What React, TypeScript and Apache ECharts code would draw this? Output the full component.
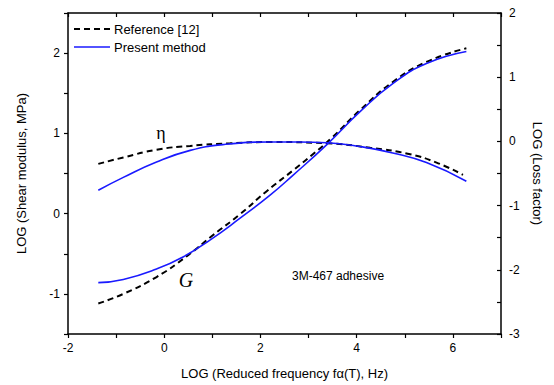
import React, { useEffect, useRef } from "react";
import * as echarts from "echarts";

// Reference [12] — shear modulus G (left axis)
const refGX = [-1.37, -0.85, -0.16, 0.47, 1.01, 1.57, 2.13, 2.68, 3.09, 3.51, 4.07, 4.75, 5.45, 6.28];
const refGY = [-1.12, -1.0, -0.79, -0.53, -0.27, -0.01, 0.28, 0.54, 0.74, 0.96, 1.29, 1.64, 1.89, 2.06];
// Present method — G
const preGX = [-1.37, -0.85, -0.16, 0.39, 0.95, 1.57, 2.2, 2.68, 3.38, 4.07, 4.75, 5.45, 6.28];
const preGY = [-0.86, -0.82, -0.69, -0.54, -0.33, -0.06, 0.23, 0.48, 0.86, 1.27, 1.62, 1.87, 2.02];
// Reference [12] — loss factor η (right axis)
const refEX = [-1.37, -0.85, -0.16, 0.54, 1.37, 2.2, 3.38, 4.28, 5.11, 5.66, 6.21];
const refEY = [-0.35, -0.25, -0.13, -0.07, -0.03, -0.01, -0.03, -0.1, -0.2, -0.33, -0.52];
// Present method — η
const preEX = [-1.37, -0.85, -0.16, 0.54, 1.22, 2.2, 2.8, 3.38, 4.07, 4.75, 5.45, 6.28];
const preEY = [-0.76, -0.56, -0.32, -0.14, -0.05, -0.01, -0.01, -0.02, -0.08, -0.18, -0.33, -0.62];

const xLabels = [-2, 0, 2, 4, 6];
const leftLabels = [-1, 0, 1, 2];
const rightLabels = [-3, -2, -1, 0, 1, 2];

const zip = (xs: number[], ys: number[]) => xs.map((x, i) => [x, ys[i]]);

const FONT = "Liberation Sans, Arial, sans-serif";
const BLUE = "#1a1aff";

export default function App() {
  const ref = useRef<HTMLDivElement>(null);
  useEffect(() => {
    if (!ref.current) return;
    const chart = echarts.init(ref.current, undefined, { renderer: "svg" });
    const axisLine = { show: true, onZero: false, lineStyle: { color: "#000", width: 1.5 } };
    const tick = (inside: boolean) => ({ show: true, inside, length: 4, lineStyle: { color: "#000", width: 1.2 } });
    const labelStyle = { color: "#000", fontFamily: FONT, fontSize: 12 };
    const nameStyle = { color: "#000", fontFamily: FONT, fontSize: 13 };
    const lineSeries = (name: string, yIdx: number, xs: number[], ys: number[], dashed: boolean) => ({
      name,
      type: "line",
      xAxisIndex: 0,
      yAxisIndex: yIdx,
      smooth: true,
      symbol: "none",
      data: zip(xs, ys),
      lineStyle: dashed ? { color: "#000", width: 2, type: [6, 4] } : { color: BLUE, width: 1.6 },
      z: dashed ? 3 : 4,
    });
    chart.setOption({
      animation: false,
      backgroundColor: "#fff",
      grid: { left: 68, top: 13, right: 53, bottom: 50 },
      xAxis: [
        {
          type: "value",
          position: "bottom",
          min: -2,
          max: 7,
          interval: 1,
          axisLine,
          splitLine: { show: false },
          axisTick: tick(false),
          axisLabel: {
            ...labelStyle,
            margin: 8,
            formatter: (v: number) => (xLabels.includes(v) ? String(v) : ""),
          },
          name: "LOG (Reduced frequency f\u03b1(T), Hz)",
          nameLocation: "middle",
          nameGap: 33,
          nameTextStyle: nameStyle,
        },
        {
          type: "value",
          position: "top",
          min: -2,
          max: 7,
          interval: 1,
          axisLine,
          splitLine: { show: false },
          axisTick: tick(true),
          axisLabel: { show: false },
        },
      ],
      yAxis: [
        {
          type: "value",
          position: "left",
          min: -1.5,
          max: 2.5,
          interval: 0.5,
          axisLine,
          splitLine: { show: false },
          axisTick: tick(false),
          axisLabel: {
            ...labelStyle,
            margin: 8,
            formatter: (v: number) => (leftLabels.includes(v) ? String(v) : ""),
          },
          name: "LOG (Shear modulus, MPa)",
          nameLocation: "middle",
          nameGap: 40,
          nameRotate: 90,
          nameTextStyle: nameStyle,
        },
        {
          type: "value",
          position: "right",
          min: -3,
          max: 2,
          interval: 0.5,
          axisLine,
          splitLine: { show: false },
          axisTick: tick(true),
          axisLabel: {
            ...labelStyle,
            margin: 8,
            formatter: (v: number) => (rightLabels.includes(v) ? String(v) : ""),
          },
          name: "LOG (Loss factor)",
          nameLocation: "middle",
          nameGap: 28,
          nameRotate: -90,
          nameTextStyle: nameStyle,
        },
      ],
      series: [
        lineSeries("Reference [12] G", 0, refGX, refGY, true),
        lineSeries("Present method G", 0, preGX, preGY, false),
        lineSeries("Reference [12] eta", 1, refEX, refEY, true),
        lineSeries("Present method eta", 1, preEX, preEY, false),
      ],
      graphic: [
        {
          type: "line",
          shape: { x1: 74, y1: 29, x2: 110, y2: 29 },
          style: { stroke: "#000", lineWidth: 2, lineDash: [6, 4] },
        },
        {
          type: "text",
          x: 114,
          y: 29,
          style: { text: "Reference [12]", fill: "#000", font: `13px ${FONT}`, verticalAlign: "middle" },
        },
        {
          type: "line",
          shape: { x1: 74, y1: 47, x2: 110, y2: 47 },
          style: { stroke: BLUE, lineWidth: 1.6 },
        },
        {
          type: "text",
          x: 114,
          y: 47,
          style: { text: "Present method", fill: "#000", font: `13px ${FONT}`, verticalAlign: "middle" },
        },
        {
          type: "text",
          x: 161,
          y: 133,
          style: { text: "\u03b7", fill: "#000", font: `18px "Liberation Serif", "DejaVu Serif", serif`, align: "center", verticalAlign: "middle" },
        },
        {
          type: "text",
          x: 186,
          y: 280,
          style: { text: "G", fill: "#000", font: `italic 20px "Liberation Serif", serif`, align: "center", verticalAlign: "middle" },
        },
        {
          type: "text",
          x: 292,
          y: 276,
          style: { text: "3M-467 adhesive", fill: "#000", font: `12px ${FONT}`, verticalAlign: "middle" },
        },
      ],
    });
    return () => chart.dispose();
  }, []);
  return <div ref={ref} style={{ width: 554, height: 385, position: "absolute", left: 0, top: 0 }} />;
}
